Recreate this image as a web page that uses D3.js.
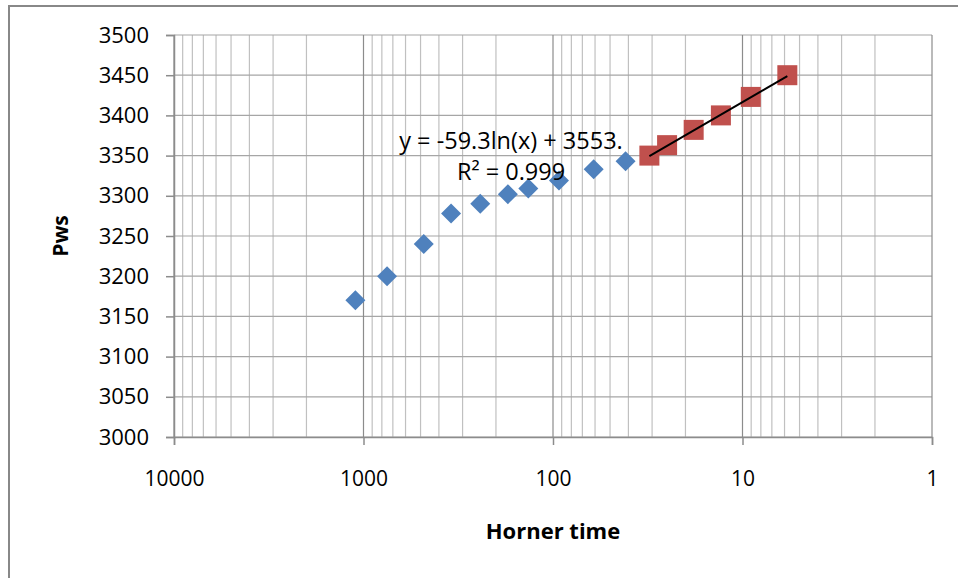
<!DOCTYPE html>
<html>
<head>
<meta charset="utf-8">
<script src="https://cdn.jsdelivr.net/npm/d3@7"></script>
<style>
  body { margin: 0; background: #fff; }
  svg { display: block; font-family: "Open Sans", "Liberation Sans", sans-serif; }
</style>
</head>
<body>
<div id="chart"></div>
<script>
// Horner plot data
const earlyTime = [1104, 751, 481, 345, 242, 173, 135, 93, 61, 41.4];
const earlyPws = [3170, 3200, 3240, 3278, 3290, 3302, 3309, 3319, 3333, 3343];
const lateTime = [31, 25, 18.1, 13, 9.04, 5.8];
const latePws = [3350, 3363, 3382, 3400, 3423, 3450];
const yTicks = [3000, 3050, 3100, 3150, 3200, 3250, 3300, 3350, 3400, 3450, 3500];
const xTicks = [10000, 1000, 100, 10, 1];
const trendSlope = -59.3, trendIntercept = 3553;

const W = 958, H = 578;
const margin = { top: 35, right: 26, bottom: 141, left: 174 };

const svg = d3.select('#chart').append('svg')
    .attr('width', W)
    .attr('height', H);

// outer chart frame (runs off the window on right and bottom)
svg.append('rect')
    .attr('x', 9).attr('y', 6)
    .attr('width', 960).attr('height', 600)
    .attr('fill', 'none')
    .attr('stroke', '#888')
    .attr('stroke-width', 2);

const x = d3.scaleLog()
    .domain([10000, 1])
    .range([margin.left, W - margin.right]);
const y = d3.scaleLinear()
    .domain([3000, 3500])
    .range([H - margin.bottom, margin.top]);

const g = svg.append('g');

// minor vertical gridlines (2..9 x 10^k)
const minor = [];
for (let k = 0; k < 4; k++) {
    for (let m = 2; m <= 9; m++) minor.push(m * Math.pow(10, k));
}
g.selectAll('.minor').data(minor).enter().append('line')
    .attr('x1', d => x(d)).attr('x2', d => x(d))
    .attr('y1', y(3000)).attr('y2', y(3500))
    .attr('stroke', '#c0c0c0').attr('stroke-width', 1.2);

// horizontal gridlines
g.selectAll('.hgrid').data(yTicks).enter().append('line')
    .attr('x1', x(10000)).attr('x2', x(1))
    .attr('y1', d => y(d)).attr('y2', d => y(d))
    .attr('stroke', '#a6a6a6').attr('stroke-width', 1.2);

// decade gridlines
g.selectAll('.major').data(xTicks).enter().append('line')
    .attr('x1', d => x(d)).attr('x2', d => x(d))
    .attr('y1', y(3000)).attr('y2', y(3500))
    .attr('stroke', '#8c8c8c').attr('stroke-width', 1.2);

// axes
const yAxis = d3.axisLeft(y).tickValues(yTicks).tickSize(8).tickPadding(17).tickFormat(d3.format('d'));
const xAxis = d3.axisBottom(x).tickValues(xTicks).tickSize(8).tickFormat(d3.format('d')).tickPadding(26);

const ya = svg.append('g')
    .attr('transform', `translate(${x(10000)},0)`)
    .call(yAxis);
const xa = svg.append('g')
    .attr('transform', `translate(0,${y(3000)})`)
    .call(xAxis);

[ya, xa].forEach(a => {
    a.select('.domain').attr('stroke', '#8c8c8c').attr('stroke-width', 1.5);
    a.selectAll('.tick line').attr('stroke', '#8c8c8c').attr('stroke-width', 1.5);
    a.selectAll('.tick text')
        .attr('fill', '#000')
        .style('font-size', '22px')
        .style('font-family', '"Open Sans", sans-serif');
});
xa.selectAll('.tick text').style('font-size', '21px');

// axis titles
svg.append('text')
    .attr('x', x(100)).attr('y', 539)
    .attr('text-anchor', 'middle')
    .style('font-size', '22px').style('font-weight', 'bold')
    .text('Horner time');
svg.append('text')
    .attr('transform', `translate(68,${(y(3000) + y(3500)) / 2}) rotate(-90)`)
    .attr('text-anchor', 'middle')
    .style('font-size', '21px').style('font-weight', 'bold')
    .text('Pws');

// early-time points (blue diamonds)
const early = earlyTime.map((t, i) => ({ t: t, p: earlyPws[i] }));
svg.append('g').selectAll('path').data(early).enter().append('path')
    .attr('d', d3.symbol().type(d3.symbolSquare).size(200))
    .attr('transform', d => `translate(${x(d.t)},${y(d.p)}) rotate(45)`)
    .attr('fill', '#4f81bd');

// late-time points (red squares)
const late = lateTime.map((t, i) => ({ t: t, p: latePws[i] }));
svg.append('g').selectAll('rect').data(late).enter().append('rect')
    .attr('x', d => x(d.t) - 10).attr('y', d => y(d.p) - 10)
    .attr('width', 20).attr('height', 20)
    .attr('fill', '#c0504d');

// log trendline over the late-time points
const tMin = d3.min(lateTime), tMax = d3.max(lateTime);
const trend = d3.range(0, 21).map(i => {
    const t = tMax * Math.pow(tMin / tMax, i / 20);
    return [x(t), y(trendSlope * Math.log(t) + trendIntercept)];
});
svg.append('path')
    .attr('d', d3.line()(trend))
    .attr('fill', 'none')
    .attr('stroke', '#000')
    .attr('stroke-width', 2);

// equation label
const eq = svg.append('text')
    .attr('text-anchor', 'middle')
    .style('font-size', '23.5px');
eq.append('tspan').attr('x', 511).attr('y', 149).text('y = -59.3ln(x) + 3553.');
eq.append('tspan').attr('x', 511).attr('y', 180).text('R² = 0.999');
</script>
</body>
</html>
